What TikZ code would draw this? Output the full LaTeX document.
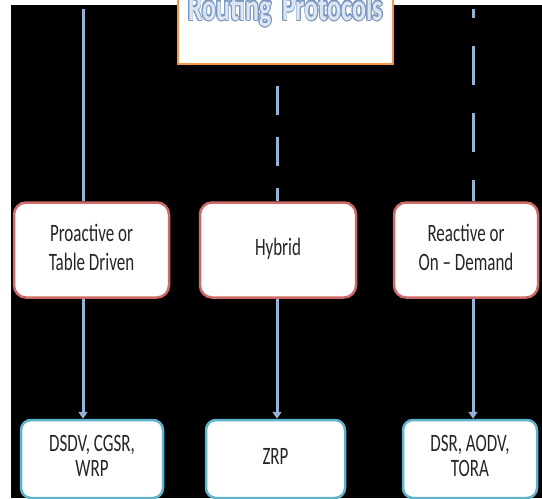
\documentclass[tikz,border=0pt]{standalone}
\usepackage{fontspec}
\setmainfont{Carlito}
\usepackage{graphicx}
\usepackage{contour}
\usetikzlibrary{arrows.meta}
\definecolor{linkblue}{HTML}{95B3D7}
\definecolor{typered}{HTML}{CD6B68}
\definecolor{protocyan}{HTML}{5FB4CC}
\definecolor{titleorange}{HTML}{F79646}
\definecolor{titlefill}{HTML}{DCE6F2}
\definecolor{titleline}{HTML}{7B98C2}
\definecolor{textgray}{HTML}{262626}
\contourlength{0.8pt}
\newcommand\tallbox[2]{\scalebox{1}[1.47]{\fontsize{17}{#1}\selectfont\begin{tabular}{@{}c@{}}#2\end{tabular}}}

\begin{document}
\begin{tikzpicture}[x=1pt,y=-1pt,
  link/.style={draw=linkblue,line width=3pt},
  typebox/.style={draw=typered,line width=2.5pt,fill=white,rounded corners=12pt,inner sep=0pt,minimum height=95pt,text=textgray},
  protobox/.style={draw=protocyan,line width=2.5pt,fill=white,rounded corners=10pt,inner sep=0pt,minimum height=78pt,text=textgray}]
\useasboundingbox (0,0) rectangle (542,499);
\clip (0,0) rectangle (542,499);
\fill[black] (11,5) rectangle (542,498);

\node[draw=titleorange,line width=2.5pt,fill=white,inner sep=0pt,minimum width=215pt,minimum height=100pt] (routing) at (285.5,14) {};
\node[anchor=base] (routing-text) at (285.5,20)
  {\scalebox{1}[1.45]{\fontsize{26}{26}\selectfont\bfseries\contour{titleline}{\textcolor{titlefill}{Routing\hspace{.4em}Protocols}}}};

\node[typebox,minimum width=155pt] (pro) at (91.5,250) {\tallbox{19.7}{Proactive or\\Table Driven}};
\node[typebox,minimum width=156pt] (hyb) at (278,250) {\tallbox{19.7}{Hybrid}};
\node[typebox,minimum width=144pt] (rea) at (466,250) {\tallbox{19.7}{Reactive or\\On – Demand}};

\node[protobox,minimum width=142pt] (dsdv) at (92,459) {\tallbox{17}{DSDV, CGSR,\\WRP}};
\node[protobox,minimum width=139pt] (zrp) at (275.5,459) {\tallbox{17}{ZRP}};
\node[protobox,minimum width=134pt] (dsr) at (470,459) {\tallbox{17}{DSR, AODV,\\TORA}};

\coordinate (top-l) at (83,9);
\coordinate (top-m) at (277,0);
\coordinate (top-r) at (473,9);
\draw[link] (top-l) -- (pro.north -| top-l);
\draw[link,dash pattern=on 29pt off 22pt,dash phase=30pt] (routing.south -| top-m) -- (hyb.north -| top-m);
\draw[link,dash pattern=on 39pt off 28pt,dash phase=30pt] (top-r) -- (rea.north -| top-r);

\foreach \upper/\lower/\x in {pro/dsdv/top-l,hyb/zrp/top-m,rea/dsr/top-r}{
  \draw[link,-{Triangle[length=7pt,width=9pt]}] (\upper.south -| \x) -- (\lower.north -| \x);
}
\end{tikzpicture}
\end{document}
